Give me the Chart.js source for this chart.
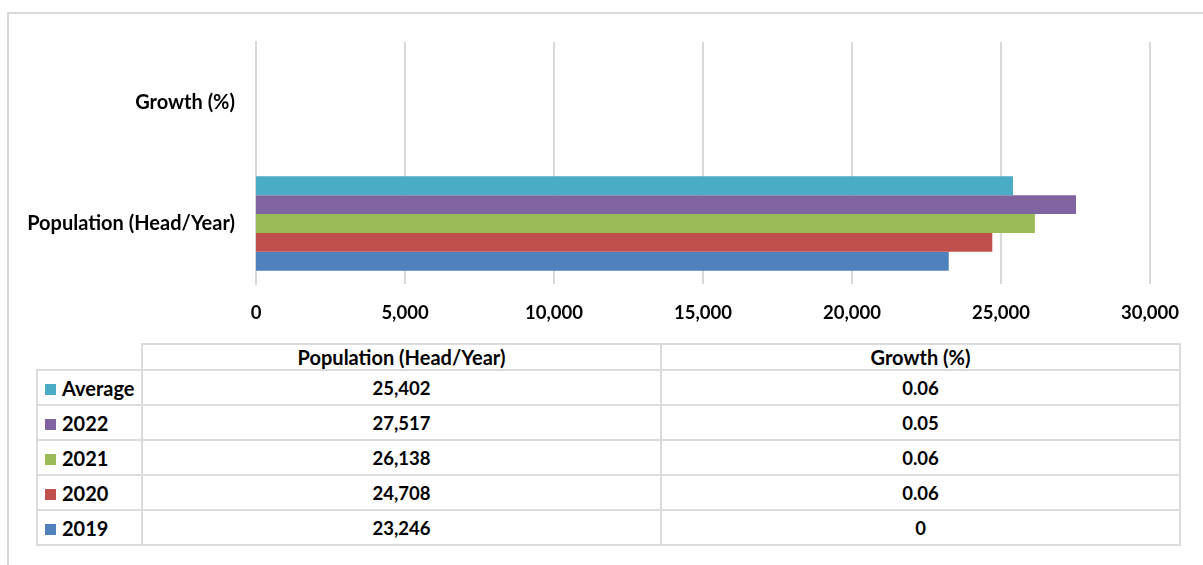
<!DOCTYPE html>
<html>
<head>
<meta charset="utf-8">
<script src="https://cdn.jsdelivr.net/npm/chart.js@4/dist/chart.umd.min.js"></script>
<style>
  body { margin: 0; background: #fff; width: 1203px; height: 565px; overflow: hidden; position: relative; }
  #frame { position: absolute; left: 7px; top: 12px; width: 1300px; height: 600px;
           border-left: 2px solid #d9d9d9; border-top: 2px solid #d9d9d9; }
  #chartBox { position: absolute; left: 0; top: 0; width: 1203px; height: 335px; }
  #dataTable { position: absolute; left: 36px; top: 343px; border-collapse: collapse;
               table-layout: fixed; font-family: Lato, sans-serif; font-weight: bold; font-size: 18.5px; color: #000; }
  #dataTable td, #dataTable th { border: 2px solid #dcdcdc; padding: 0; text-align: center; font-weight: bold; }
  #dataTable th { height: 24px; font-size: 20px; }
  #dataTable td { height: 33px; }
  #dataTable th.blank { border-top: none; border-left: none; }
  #dataTable td.lbl { text-align: left; padding-left: 7px; font-size: 20px; }
  .key { display: inline-block; width: 11px; height: 11px; margin-right: 6px; vertical-align: 1px; }
</style>
</head>
<body>
<div id="frame"></div>
<div id="chartBox"><canvas id="chart"></canvas></div>
<table id="dataTable">
  <colgroup><col style="width:105px"><col style="width:519px"><col style="width:519px"></colgroup>
  <thead><tr id="headRow"><th class="blank"></th></tr></thead>
  <tbody id="tableBody"></tbody>
</table>
<script>
// Chart data
const categories = ['Growth (%)', 'Population (Head/Year)'];
const seriesNames = ['Average', '2022', '2021', '2020', '2019'];
const seriesColors = ['#4BACC6', '#8064A2', '#9BBB59', '#C0504D', '#4F81BD'];
const growthValues = [0.06, 0.05, 0.06, 0.06, 0];
const populationValues = [25402, 27517, 26138, 24708, 23246];
const xTicks = [0, 5000, 10000, 15000, 20000, 25000, 30000];

const fontFamily = 'Lato, sans-serif';
const fmt = v => v.toLocaleString('en-US');

// Build datasets (one per series)
let datasets = [];
for (let i = 0; i < seriesNames.length; i++) {
    datasets.push({
        label: seriesNames[i],
        data: [growthValues[i], populationValues[i]],
        backgroundColor: seriesColors[i],
        borderWidth: 0,
        inflateAmount: 0,
        categoryPercentage: 0.78,
        barPercentage: 1.0
    });
}

new Chart(document.getElementById('chart').getContext('2d'), {
    type: 'bar',
    data: { labels: categories, datasets: datasets },
    options: {
        indexAxis: 'y',
        responsive: true,
        maintainAspectRatio: false,
        animation: false,
        layout: { padding: { top: 42, right: 53, left: 0, bottom: 0 } },
        plugins: { legend: { display: false }, tooltip: { enabled: false } },
        scales: {
            x: {
                min: 0,
                max: 30000,
                afterBuildTicks: (scale) => { scale.ticks = xTicks.map(v => ({ value: v })); },
                afterFit: (scale) => { scale.height = 51; },
                // zero line comes from the y-axis border instead, so tiny bars are not shifted
                grid: { color: '#d9d9d9', lineWidth: (ctx) => (ctx.tick && ctx.tick.value === 0 ? 0 : 2), drawTicks: false },
                border: { display: false },
                ticks: {
                    padding: 18,
                    color: '#000',
                    font: { family: fontFamily, size: 18.5, weight: 'bold' },
                    callback: (v) => fmt(v)
                }
            },
            y: {
                afterFit: (scale) => { scale.width = 256; },
                grid: { display: false, drawTicks: false },
                border: { display: true, color: '#d9d9d9', width: 2 },
                ticks: {
                    padding: 21,
                    color: '#000',
                    font: { family: fontFamily, size: 20, weight: 'bold' }
                }
            }
        }
    }
});

// Data table under the chart
let headRow = document.getElementById('headRow');
for (const cat of categories.slice().reverse()) {
    let th = document.createElement('th');
    th.textContent = cat;
    headRow.appendChild(th);
}
let body = document.getElementById('tableBody');
for (let i = 0; i < seriesNames.length; i++) {
    let tr = document.createElement('tr');
    let lbl = document.createElement('td');
    lbl.className = 'lbl';
    lbl.innerHTML = '<span class="key" style="background:' + seriesColors[i] + '"></span>' + seriesNames[i];
    tr.appendChild(lbl);
    let c1 = document.createElement('td');
    c1.textContent = fmt(populationValues[i]);
    tr.appendChild(c1);
    let c2 = document.createElement('td');
    c2.textContent = String(growthValues[i]);
    tr.appendChild(c2);
    body.appendChild(tr);
}
</script>
</body>
</html>
